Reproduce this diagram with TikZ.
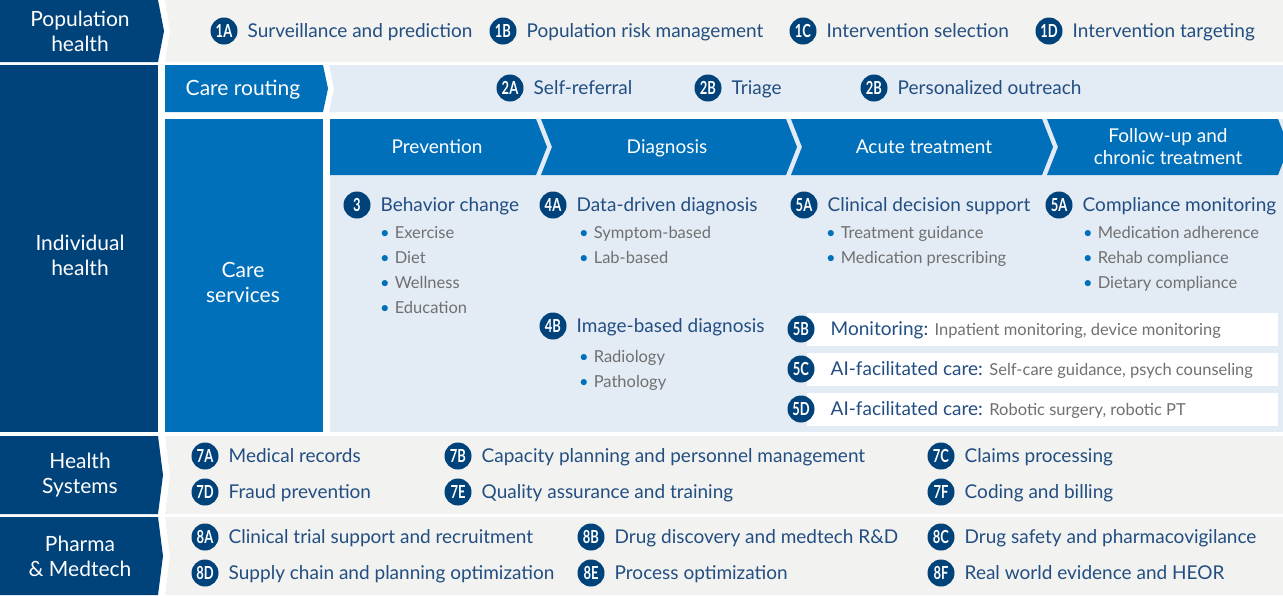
\documentclass[tikz,border=0pt]{standalone}
\usepackage{fontspec}
\setmainfont{Lato}
\newfontfamily\badgefont{Lato}[FakeStretch=0.72]
\usetikzlibrary{positioning}

\definecolor{NavyBlue}{RGB}{0,66,122}
\definecolor{MidBlue}{RGB}{0,112,186}
\definecolor{PaleBlue}{RGB}{227,235,245}
\definecolor{PaleGray}{RGB}{242,242,240}
\definecolor{ItemBlue}{RGB}{34,78,130}
\definecolor{NoteGray}{RGB}{112,112,112}

\begin{document}
\begin{tikzpicture}[x=1pt,y=-1pt]
  \tikzset{BadgeStyle/.style = {
    shape         = circle,
    fill          = NavyBlue,
    text          = white,
    inner sep     = 0pt,
    outer sep     = 0pt,
    minimum size  = 27pt,
    font          = \badgefont\bfseries\fontsize{18}{18}\selectfont
    }
  }
  \tikzset{ItemStyle/.style = {
    anchor        = west,
    text          = ItemBlue,
    inner sep     = 0pt,
    text height   = 16pt,
    text depth    = 3pt,
    font          = \fontsize{19}{19}\selectfont
    }
  }
  \tikzset{BulletStyle/.style = {
    anchor        = west,
    text          = NoteGray,
    inner sep     = 0pt,
    text height   = 14pt,
    text depth    = 4pt,
    font          = \fontsize{16.5}{16.5}\selectfont
    }
  }
  \tikzset{SideStyle/.style = {
    text          = white,
    align         = center,
    inner sep     = 0pt,
    font          = \fontsize{21}{25}\selectfont
    }
  }
  \tikzset{HeadStyle/.style = {
    text          = white,
    align         = center,
    inner sep     = 0pt,
    font          = \fontsize{19}{22}\selectfont
    }
  }

  \useasboundingbox (0,0) rectangle (1283,595);
  \fill[white] (0,0) rectangle (1283,595);

  % bands
  \fill[NavyBlue] (0,0) -- (158,0) -- (164,31) -- (158,62) -- (0,62) -- cycle;
  \fill[PaleGray] (165,0) -- (1283,0) -- (1283,62) -- (165,62) -- (170,31) -- cycle;
  \fill[NavyBlue] (0,65) rectangle (158,432);
  \fill[MidBlue] (165,65) -- (323,65) -- (328,88.5) -- (323,112) -- (165,112) -- cycle;
  \fill[PaleBlue] (329,65) -- (1283,65) -- (1283,112) -- (329,112) -- (334,88.5) -- cycle;
  \fill[MidBlue] (165,119) rectangle (323,432);
  \fill[PaleBlue] (330,119) rectangle (1283,432);
  \fill[NavyBlue] (0,436) -- (158,436) -- (163,475) -- (158,514) -- (0,514) -- cycle;
  \fill[PaleGray] (165,436) -- (1283,436) -- (1283,514) -- (165,514) -- (170,475) -- cycle;
  \fill[NavyBlue] (0,517) -- (158,517) -- (163,556) -- (158,595) -- (0,595) -- cycle;
  \fill[PaleGray] (165,517) -- (1283,517) -- (1283,595) -- (165,595) -- (170,556) -- cycle;

  % care path chevrons
  \fill[MidBlue] (330,119) -- (536,119) -- (547,147) -- (536,175) -- (330,175) -- cycle;
  \fill[MidBlue] (541,119) -- (786,119) -- (797,147) -- (786,175) -- (541,175) -- (552,147) -- cycle;
  \fill[MidBlue] (791,119) -- (1042,119) -- (1053,147) -- (1042,175) -- (791,175) -- (802,147) -- cycle;
  \fill[MidBlue] (1047,119) -- (1278,119) -- (1289,147) -- (1278,175) -- (1047,175) -- (1058,147) -- cycle;

  % white strips
  \fill[white] (807,313) rectangle (1278,346);
  \fill[white] (807,353) rectangle (1278,386);
  \fill[white] (807,393) rectangle (1278,426);

	\node[SideStyle](L1) at (80, 31.5) {Population\\health};
	\node[SideStyle](L2) at (80, 255.5) {Individual\\health};
	\node[SideStyle](L3) at (243, 89.5) {Care routing};
	\node[SideStyle](L4) at (243, 282.5) {Care\\services};
	\node[SideStyle](L5) at (80, 475.5) {Health\\Systems};
	\node[SideStyle](L6) at (80, 556.5) {Pharma\\\& Medtech};

	\node[HeadStyle, text height=14pt, text depth=5pt](H1) at (437, 149) {Prevention};
	\node[HeadStyle, text height=14pt, text depth=5pt](H2) at (667, 149) {Diagnosis};
	\node[HeadStyle, text height=14pt, text depth=5pt](H3) at (924, 149) {Acute treatment};
	\node[HeadStyle](H4) at (1168, 147) {Follow-up and\\chronic treatment};

	\node[BadgeStyle](P1) at (224, 31) {1A};
	\node[BadgeStyle](P2) at (503, 31) {1B};
	\node[BadgeStyle](P3) at (803, 31) {1C};
	\node[BadgeStyle](P4) at (1049, 31) {1D};
	\node[ItemStyle, right=10pt of P1](P1t) {Surveillance and prediction};
	\node[ItemStyle, right=10pt of P2](P2t) {Population risk management};
	\node[ItemStyle, right=10pt of P3](P3t) {Intervention selection};
	\node[ItemStyle, right=10pt of P4](P4t) {Intervention targeting};

	\node[BadgeStyle](R1) at (510, 88) {2A};
	\node[BadgeStyle](R2) at (708, 88) {2B};
	\node[BadgeStyle](R3) at (874, 88) {2B};
	\node[ItemStyle, right=10pt of R1](R1t) {Self-referral};
	\node[ItemStyle, right=10pt of R2](R2t) {Triage};
	\node[ItemStyle, right=10pt of R3](R3t) {Personalized outreach};

	\node[BadgeStyle](C1) at (357, 205) {3};
	\node[BadgeStyle](C2) at (553, 205) {4A};
	\node[BadgeStyle](C3) at (804, 205) {5A};
	\node[BadgeStyle](C4) at (1059, 205) {5A};
	\node[BadgeStyle](C5) at (553, 326) {4B};
	\node[ItemStyle, right=10pt of C1](C1t) {Behavior change};
	\node[ItemStyle, right=10pt of C2](C2t) {Data-driven diagnosis};
	\node[ItemStyle, right=10pt of C3](C3t) {Clinical decision support};
	\node[ItemStyle, right=10pt of C4](C4t) {Compliance monitoring};
	\node[ItemStyle, right=10pt of C5](C5t) {Image-based diagnosis};

	\node[BulletStyle](B1) at (380, 233) {\textcolor{MidBlue}{•}\hspace{5pt}Exercise};
	\node[BulletStyle](B2) at (380, 258) {\textcolor{MidBlue}{•}\hspace{5pt}Diet};
	\node[BulletStyle](B3) at (380, 283) {\textcolor{MidBlue}{•}\hspace{5pt}Wellness};
	\node[BulletStyle](B4) at (380, 308) {\textcolor{MidBlue}{•}\hspace{5pt}Education};
	\node[BulletStyle](B5) at (579, 233) {\textcolor{MidBlue}{•}\hspace{5pt}Symptom-based};
	\node[BulletStyle](B6) at (579, 258) {\textcolor{MidBlue}{•}\hspace{5pt}Lab-based};
	\node[BulletStyle](B7) at (579, 357) {\textcolor{MidBlue}{•}\hspace{5pt}Radiology};
	\node[BulletStyle](B8) at (579, 382) {\textcolor{MidBlue}{•}\hspace{5pt}Pathology};
	\node[BulletStyle](B9) at (826, 233) {\textcolor{MidBlue}{•}\hspace{5pt}Treatment guidance};
	\node[BulletStyle](B10) at (826, 258) {\textcolor{MidBlue}{•}\hspace{5pt}Medication prescribing};
	\node[BulletStyle](B11) at (1083, 233) {\textcolor{MidBlue}{•}\hspace{5pt}Medication adherence};
	\node[BulletStyle](B12) at (1083, 258) {\textcolor{MidBlue}{•}\hspace{5pt}Rehab compliance};
	\node[BulletStyle](B13) at (1083, 283) {\textcolor{MidBlue}{•}\hspace{5pt}Dietary compliance};

	\node[BadgeStyle](M1) at (801, 329) {5B};
	\node[BadgeStyle](M2) at (801, 369) {5C};
	\node[BadgeStyle](M3) at (801, 409) {5D};
	\node[ItemStyle, right=16pt of M1](M1t) {Monitoring: {\color{NoteGray}\fontsize{16.5}{16.5}\selectfont Inpatient monitoring, device monitoring}};
	\node[ItemStyle, right=16pt of M2](M2t) {AI-facilitated care: {\color{NoteGray}\fontsize{16.5}{16.5}\selectfont Self-care guidance, psych counseling}};
	\node[ItemStyle, right=16pt of M3](M3t) {AI-facilitated care: {\color{NoteGray}\fontsize{16.5}{16.5}\selectfont Robotic surgery, robotic PT}};

	\node[BadgeStyle](S1) at (205, 456) {7A};
	\node[BadgeStyle](S2) at (458, 456) {7B};
	\node[BadgeStyle](S3) at (941, 456) {7C};
	\node[BadgeStyle](S4) at (205, 492) {7D};
	\node[BadgeStyle](S5) at (458, 492) {7E};
	\node[BadgeStyle](S6) at (941, 492) {7F};
	\node[ItemStyle, right=10pt of S1](S1t) {Medical records};
	\node[ItemStyle, right=10pt of S2](S2t) {Capacity planning and personnel management};
	\node[ItemStyle, right=10pt of S3](S3t) {Claims processing};
	\node[ItemStyle, right=10pt of S4](S4t) {Fraud prevention};
	\node[ItemStyle, right=10pt of S5](S5t) {Quality assurance and training};
	\node[ItemStyle, right=10pt of S6](S6t) {Coding and billing};

	\node[BadgeStyle](D1) at (205, 537) {8A};
	\node[BadgeStyle](D2) at (591, 537) {8B};
	\node[BadgeStyle](D3) at (941, 537) {8C};
	\node[BadgeStyle](D4) at (205, 573) {8D};
	\node[BadgeStyle](D5) at (591, 573) {8E};
	\node[BadgeStyle](D6) at (941, 573) {8F};
	\node[ItemStyle, right=10pt of D1](D1t) {Clinical trial support and recruitment};
	\node[ItemStyle, right=10pt of D2](D2t) {Drug discovery and medtech R\&D};
	\node[ItemStyle, right=10pt of D3](D3t) {Drug safety and pharmacovigilance};
	\node[ItemStyle, right=10pt of D4](D4t) {Supply chain and planning optimization};
	\node[ItemStyle, right=10pt of D5](D5t) {Process optimization};
	\node[ItemStyle, right=10pt of D6](D6t) {Real world evidence and HEOR};

\end{tikzpicture}
\end{document}
